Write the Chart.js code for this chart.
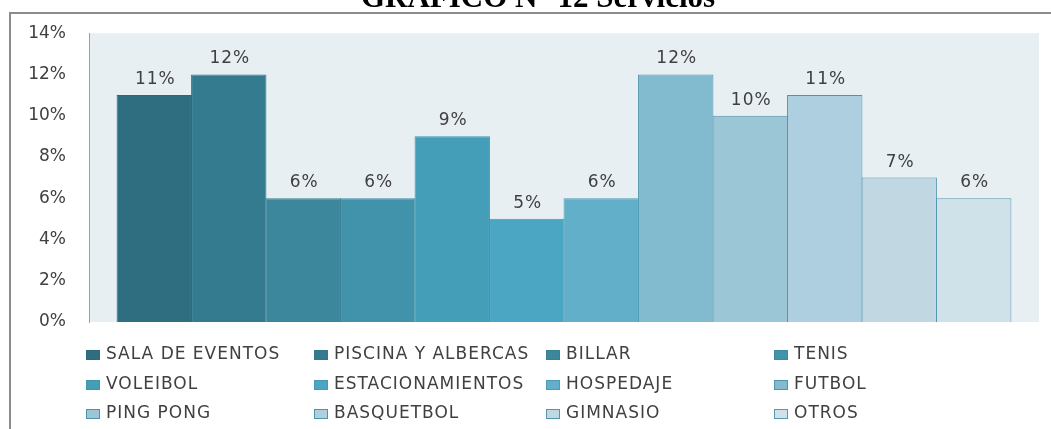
<!DOCTYPE html>
<html>
<head>
<meta charset="utf-8">
<script src="https://cdn.jsdelivr.net/npm/chart.js@4/dist/chart.umd.min.js"></script>
<style>
html,body{margin:0;padding:0;background:#fff;}
#wrap{position:relative;width:1051px;height:429px;overflow:hidden;}
</style>
</head>
<body>
<div id="wrap"><canvas id="c" width="1051" height="429"></canvas></div>
<script>
const titleText = 'GRÁFICO N° 12 Servicios';
const categories = ['SALA DE EVENTOS','PISCINA Y ALBERCAS','BILLAR','TENIS','VOLEIBOL','ESTACIONAMIENTOS','HOSPEDAJE','FUTBOL','PING PONG','BASQUETBOL','GIMNASIO','OTROS'];
const values = [11, 12, 6, 6, 9, 5, 6, 12, 10, 11, 7, 6];
const colors = ['#2E6E80','#357B90','#3C879C','#4193AC','#449EB7','#4AA6C3','#62AFC9','#82BBD0','#9AC6D6','#ADCFDF','#C1D8E3','#D0E2E9'];
const borderColors = ['#2C6A7B','#33778B','#387F93','#3D8BA3','#4294AD','#4698B3','#4E9AB5','#4F93AD','#4F93AD','#4F93AD','#5595AD','#5898B0'];
const yTickLabels = ['0%','2%','4%','6%','8%','10%','12%','14%'];

const FONT = '"DejaVu Sans", Verdana, sans-serif';
const TXT = '#404040';

const frameAndBg = {
  id: 'frameAndBg',
  beforeDraw(chart) {
    const {ctx, chartArea: a} = chart;
    ctx.save();
    ctx.fillStyle = '#E8EFF3';
    ctx.fillRect(a.left, a.top, a.right - a.left, a.bottom - a.top);
    ctx.strokeStyle = '#8c8c8c';
    ctx.lineWidth = 2;
    ctx.beginPath();
    ctx.moveTo(10, 429);
    ctx.lineTo(10, 13);
    ctx.lineTo(1051, 13);
    ctx.stroke();
    ctx.fillStyle = '#000';
    ctx.font = 'bold 31px "Liberation Serif", "Times New Roman", serif';
    ctx.textAlign = 'center';
    ctx.textBaseline = 'alphabetic';
    ctx.fillText(titleText, 538, 7);
    ctx.restore();
  }
};

const valueLabels = {
  id: 'valueLabels',
  afterDatasetsDraw(chart) {
    const {ctx} = chart;
    ctx.save();
    ctx.font = '17px ' + FONT;
    ctx.letterSpacing = '1px';
    ctx.fillStyle = TXT;
    ctx.textAlign = 'center';
    ctx.textBaseline = 'alphabetic';
    chart.data.datasets.forEach((ds, i) => {
      const el = chart.getDatasetMeta(i).data[0];
      ctx.fillText(ds.data[0] + '%', el.x + 1, el.y - 11);
    });
    ctx.restore();
  }
};

const gridLegend = {
  id: 'gridLegend',
  afterDraw(chart) {
    const {ctx} = chart;
    const colX = [86, 314, 546, 774];
    const rowY = [355, 385, 414];
    ctx.save();
    ctx.font = '17px ' + FONT;
    ctx.letterSpacing = '1px';
    ctx.textBaseline = 'middle';
    ctx.textAlign = 'left';
    chart.data.datasets.forEach((ds, i) => {
      const x = colX[i % 4], y = rowY[Math.floor(i / 4)];
      ctx.fillStyle = ds.backgroundColor;
      ctx.fillRect(x, y - 5, 14, 10);
      ctx.strokeStyle = ds.borderColor;
      ctx.lineWidth = 1;
      ctx.strokeRect(x + 0.5, y - 4.5, 13, 9);
      ctx.fillStyle = TXT;
      ctx.fillText(ds.label, x + 20, y);
    });
    ctx.restore();
  }
};

new Chart(document.getElementById('c'), {
  type: 'bar',
  data: {
    labels: [''],
    datasets: categories.map((name, i) => ({
      label: name,
      data: [values[i]],
      backgroundColor: colors[i],
      borderColor: borderColors[i],
      borderWidth: 1,
      categoryPercentage: 0.941,
      barPercentage: 1.012
    }))
  },
  options: {
    responsive: false,
    animation: false,
    layout: {padding: {left: 0, top: 29, right: 12, bottom: 107}},
    plugins: {legend: {display: false}, title: {display: false}, tooltip: {enabled: false}},
    scales: {
      x: {display: false},
      y: {
        min: 0, max: 14,
        afterFit(s) { s.width = 89; },
        grid: {display: false, drawTicks: false},
        border: {display: true, color: '#a0a0a0', width: 1},
        ticks: {
          stepSize: 2,
          padding: 23,
          color: TXT,
          font: {family: FONT, size: 17},
          callback: (v) => yTickLabels[v / 2]
        }
      }
    }
  },
  plugins: [frameAndBg, valueLabels, gridLegend]
});
</script>
</body>
</html>
